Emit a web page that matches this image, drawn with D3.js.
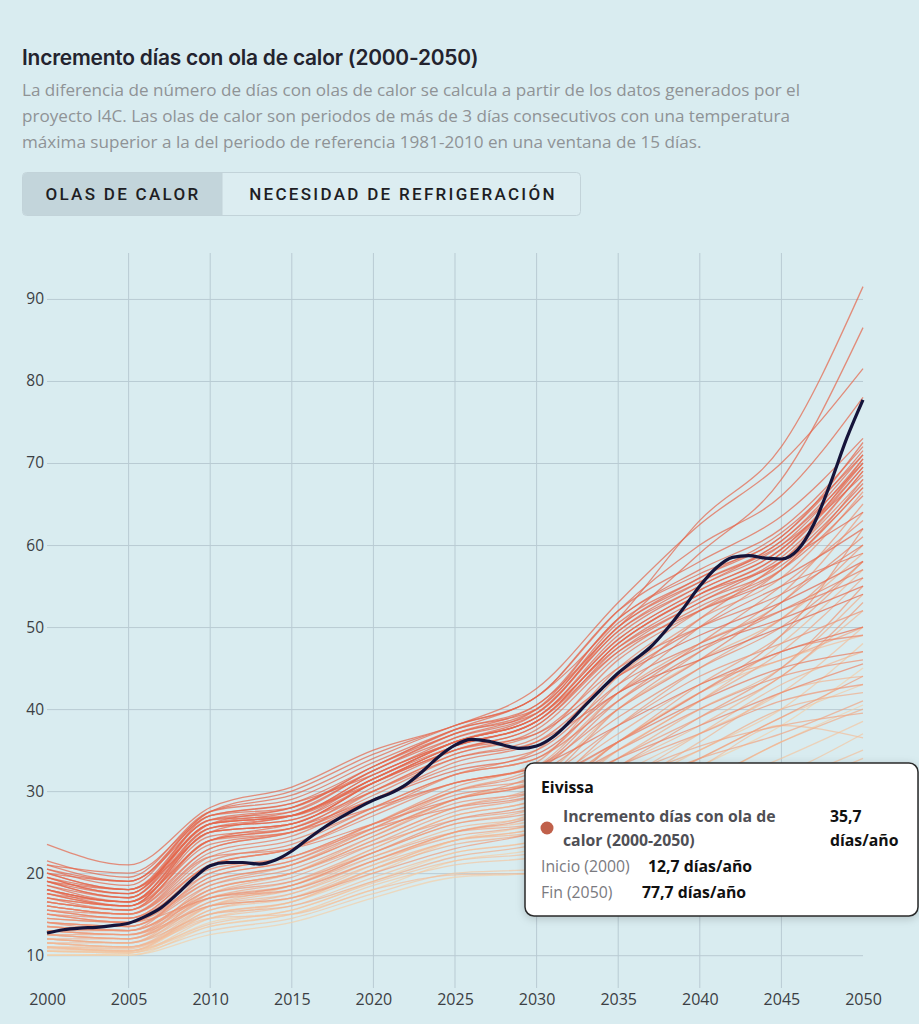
<!DOCTYPE html>
<html>
<head>
<meta charset="utf-8">
<script src="https://cdn.jsdelivr.net/npm/d3@7"></script>
<style>
  body { margin: 0; background: #d9ecf0; }
  svg { display: block; }
</style>
</head>
<body>
<svg id="chart"></svg>
<script>
// years sampled every 5 years for the municipality lines
const years = [2000, 2005, 2010, 2015, 2020, 2025, 2030, 2035, 2040, 2045, 2050];

// upper bundle (higher start, steep rise)
const upperLines = [
  [21.5, 19.5, 27.5, 29, 33.5, 37.5, 40.5, 51, 57, 62, 72],
  [20.5, 18.5, 27, 28, 33, 37, 40, 50, 56, 61, 71.5],
  [20, 18, 26.5, 27.5, 32.5, 36.5, 39.5, 49.5, 55.5, 60.5, 71],
  [19.5, 17.5, 26, 27, 32, 36, 39, 49, 55, 60, 70.5],
  [19, 17, 26.5, 27, 31.5, 36, 39, 48.5, 54.5, 59.5, 70],
  [18.5, 16.5, 25.5, 26.5, 31.5, 35.5, 38.5, 48, 54, 59, 69.5],
  [18, 16, 25, 26, 31, 35, 38, 47.5, 53.5, 58.5, 69],
  [19, 17.5, 27, 28.5, 32, 36.5, 40, 51, 56.5, 61, 72.5],
  [20, 18, 26, 27.5, 32.5, 37, 39.5, 50, 55.5, 60, 68.5],
  [18.5, 17, 25.5, 26.5, 31, 35.5, 38.5, 48, 54, 58, 67.5],
  [17.5, 16, 24.5, 25.5, 30.5, 35, 38, 47, 53, 57.5, 67],
  [17, 15.5, 24, 25.5, 30, 34.5, 37.5, 46.5, 52.5, 57, 66],
  [21, 19, 27.5, 29.5, 34, 38, 41.5, 52, 58, 63.5, 73],
  [19.5, 17.5, 26, 27, 32, 36, 39, 47.5, 53, 58, 64],
  [18, 16.5, 25, 26, 31, 35.5, 38.5, 47, 52, 56, 62],
  [16.5, 15.5, 24, 25, 30, 34.5, 37, 45, 50, 54, 60],
  [20.5, 19, 27, 28.5, 33, 37.5, 40, 50.5, 56, 61.5, 71],
  [19, 17, 26, 27, 31.5, 36, 39.5, 49.5, 55, 60.5, 70],
  [18, 16.5, 25.5, 27, 31.5, 36, 39, 48.5, 54.5, 59.5, 69.5],
  [17.5, 16, 25, 26, 31, 35.5, 38.5, 48, 54, 59, 70.5]
];

// lines that break away at the end
const outlierLines = [
  [20, 19, 26.5, 28, 33, 37.5, 41.5, 51, 63, 72, 91.5],
  [19, 18, 26, 28, 32.5, 37, 40.5, 50, 59, 68, 86.5],
  [23.5, 21, 28, 30.5, 35, 38, 42.5, 53, 62.5, 70, 81.5],
  [21, 20, 27.5, 30, 34.5, 38, 41.5, 52, 60, 66, 78]
];

// middle bundle
const middleLines = [
  [16, 15, 22, 23, 26, 29, 31, 36, 41, 45, 47],
  [17, 16, 23.5, 25, 28, 31, 33, 38, 43, 47, 50],
  [18, 16.5, 24, 25.5, 29, 32.5, 34.5, 42, 46, 50, 54],
  [15, 14, 20.5, 22, 25.5, 28, 29.5, 34, 38, 42, 45.5],
  [13, 12.5, 18.5, 21, 25.5, 30, 33, 42, 48, 53, 64],
  [12, 11.5, 17.5, 20, 24.5, 29, 31.5, 40, 46, 51, 59],
  [11, 10.5, 16, 18.5, 23, 27, 29, 36, 42, 46, 49],
  [10.5, 10.3, 14.5, 16.5, 20.5, 24, 25.5, 30, 34, 39, 43],
  [14, 13.5, 19.5, 21.5, 26, 30.5, 33.5, 44, 51, 56, 66.5],
  [15.5, 14.5, 21, 23, 27.5, 32, 35, 45, 52, 58, 69],
  [16.5, 15.5, 23, 25, 29.5, 34, 36.5, 46, 52, 57, 68],
  [12.5, 12, 16.5, 18, 21.5, 24.5, 26, 31.5, 35.5, 38, 39.5],
  [13.5, 13, 17.5, 19, 22.5, 26, 27.5, 33, 37, 41, 43],
  [11.5, 11, 15.5, 17.5, 21.5, 25, 27.5, 35, 41, 48, 57],
  [19.5, 18, 25, 27, 31, 35, 37, 44, 49, 53, 58],
  [17.5, 16.5, 24, 26, 30, 34, 36, 42, 47.5, 51, 55],
  [10, 10, 12.5, 14, 17, 19.5, 20, 22.5, 25, 29, 33],
  [10.8, 10.6, 13.8, 15.5, 18.8, 21.5, 22.5, 25.5, 28, 31, 35]
];

// lower bundle (lower start, wider spread)
const lowerLines = [
  [14, 13.5, 19, 21, 25, 29, 31, 40, 47, 54, 65],
  [13.5, 13, 18, 20, 24, 28, 30, 38, 45, 51, 60],
  [13, 12.5, 17.5, 19.5, 23.5, 27.5, 29.5, 36, 43, 49, 58],
  [12.5, 12, 17, 19, 23, 27, 29, 35, 41, 47, 56],
  [12, 11.5, 16.5, 18.5, 22.5, 26, 28, 34, 40, 45, 54],
  [11.5, 11, 16, 18, 22, 25.5, 27, 33, 38, 44, 52],
  [11, 10.5, 15.5, 17, 21, 25, 26.5, 32, 37, 42, 50],
  [10.5, 10.5, 15, 16.5, 20, 24, 26, 30, 35, 40, 48],
  [10, 10.2, 14, 15.5, 19, 22.5, 24, 28, 33, 38, 45],
  [10.5, 10.3, 13, 14.5, 17.5, 20, 20.5, 25, 29, 32, 37],
  [11, 10.8, 14.5, 15, 18, 19.8, 20, 23, 27, 30, 34],
  [12, 11.5, 15, 16, 19, 22, 23.5, 27, 31, 36, 40],
  [13, 12.5, 16, 17, 20, 23, 25, 29, 34, 39, 44],
  [14.5, 14, 19, 21, 25, 29, 32, 39, 45, 50, 58],
  [15, 14.5, 20, 22, 26, 30, 32.5, 41, 48, 55, 63],
  [15.5, 15, 21, 23, 27, 31, 33, 42, 50, 57, 67],
  [16, 15, 22, 24, 28, 32, 34, 43, 51, 58, 68],
  [14, 13, 20, 22, 26, 30, 31.5, 38, 44, 48, 52],
  [12.5, 12, 18, 20, 24, 28, 30.5, 37, 43, 46, 50],
  [11.5, 11.5, 16, 17.5, 21, 24, 25.5, 31, 37, 43, 47],
  [13.5, 13, 17, 18, 21.5, 25, 27, 33, 39, 45, 55],
  [12, 12, 16, 17, 20.5, 23.5, 25, 31, 35, 40, 42],
  [11, 11, 14.5, 16, 19.5, 22.5, 24, 29, 33, 38, 36.5],
  [15, 14, 19.5, 21.5, 25.5, 29.5, 31, 36, 42, 47, 49],
  [16.5, 15.5, 22.5, 24.5, 29, 33, 35, 43, 48, 52, 56],
  [14, 13.5, 18.5, 20.5, 24.5, 28.5, 30, 35, 40, 44, 46],
  [12.5, 12.5, 17, 18.5, 22, 25, 26, 30, 34, 37, 41],
  [10.5, 10.5, 13.5, 15, 18.5, 21, 22, 26, 30, 34, 38.5],
  [13, 13, 18, 20, 23.5, 26.5, 28, 34, 39, 44, 53],
  [15.5, 14.5, 21, 23, 27.5, 31, 33, 40, 46, 53, 61],
  [17, 16, 23, 25, 29, 33.5, 36, 44, 50, 55, 59],
  [16, 15, 21.5, 23.5, 28, 32, 34, 41, 47, 52, 57],
  [11.5, 11, 15, 16.5, 20.5, 24, 25, 30, 36, 42, 44],
  [10, 10, 13.5, 15, 18, 21.5, 23, 27, 31, 36, 40.5],
  [14.5, 14, 17, 18.5, 22.5, 26.5, 28.5, 36, 42, 49, 62]
];

// highlighted municipality, yearly values
const highlightName = 'Eivissa';
const highlightYears = d3.range(2000, 2051);
const highlightValues = [
  12.7, 13.1, 13.3, 13.4, 13.6, 13.9, 14.7, 15.8, 17.5, 19.4,
  20.9, 21.3, 21.3, 21.1, 21.6, 22.7, 24.2, 25.6, 26.8, 27.9,
  28.9, 29.7, 30.8, 32.4, 34.2, 35.6, 36.3, 36.1, 35.6, 35.2,
  35.5, 36.6, 38.4, 40.5, 42.5, 44.4, 46.0, 47.6, 49.8, 52.3,
  55.0, 57.2, 58.5, 58.7, 58.4, 58.3, 59.4, 62.6, 67.5, 73.0,
  77.7
];
const highlightMean = 35.7;

const xTicks = [2000, 2005, 2010, 2015, 2020, 2025, 2030, 2035, 2040, 2045, 2050];
const yTicks = [10, 20, 30, 40, 50, 60, 70, 80, 90];

const subtitleLines = [
  'La diferencia de número de días con olas de calor se calcula a partir de los datos generados por el',
  'proyecto I4C. Las olas de calor son periodos de más de 3 días consecutivos con una temperatura',
  'máxima superior a la del periodo de referencia 1981-2010 en una ventana de 15 días.'
];
const buttons = ['OLAS DE CALOR', 'NECESIDAD DE REFRIGERACIÓN'];

const width = 919, height = 1024;
const svg = d3.select('#chart').attr('width', width).attr('height', height);

svg.append('rect').attr('width', width).attr('height', height).attr('fill', '#d9ecf0');

// header
svg.append('text')
  .attr('x', 22).attr('y', 65)
  .attr('font-family', 'Inter, sans-serif')
  .attr('font-weight', 600)
  .attr('font-size', 20.9)
  .attr('letter-spacing', -0.2)
  .attr('fill', '#23232e')
  .text('Incremento días con ola de calor (2000-2050)');

svg.append('g')
  .selectAll('text')
  .data(subtitleLines)
  .join('text')
  .attr('x', 22)
  .attr('y', (d, i) => 96 + i * 26)
  .attr('font-family', '"Open Sans", sans-serif')
  .attr('font-size', 17.1)
  .attr('fill', '#8f9396')
  .text(d => d);

// toggle buttons
let btn = svg.append('g');
btn.append('rect').attr('x', 22.5).attr('y', 172.5).attr('width', 558).attr('height', 43)
  .attr('rx', 4).attr('fill', '#dcedf1').attr('stroke', '#c2d3d9');
btn.append('path').attr('d', 'M26.5,173 H222 V215 H26.5 Q23,215 23,211.5 V176.5 Q23,173 26.5,173 Z')
  .attr('fill', '#c3d5db');
btn.append('line').attr('x1', 222).attr('x2', 222).attr('y1', 173).attr('y2', 215).attr('stroke', '#c2d3d9');
btn.selectAll('text')
  .data(buttons)
  .join('text')
  .attr('x', (d, i) => (i === 0 ? 123 : 403))
  .attr('y', 200)
  .attr('text-anchor', 'middle')
  .attr('font-family', 'Roboto, sans-serif')
  .attr('font-weight', 500)
  .attr('font-size', 17)
  .attr('letter-spacing', 2.3)
  .attr('fill', '#1e1e24')
  .text(d => d);

// scales
const xScale = d3.scaleLinear().domain([2000, 2050]).range([47, 863]);
const yScale = d3.scaleLinear().domain([6, 95.6]).range([988, 253]);

// grid
svg.append('g')
  .selectAll('line')
  .data(xTicks.slice(1, -1))
  .join('line')
  .attr('x1', d => xScale(d)).attr('x2', d => xScale(d))
  .attr('y1', yScale.range()[1]).attr('y2', yScale.range()[0])
  .attr('stroke', '#b9cbd3')
  .attr('stroke-width', 1);

let yAxis = svg.append('g')
  .attr('transform', 'translate(' + xScale(2000) + ',0)')
  .call(d3.axisLeft(yScale).tickValues(yTicks).tickSize(-(xScale(2050) - xScale(2000))).tickPadding(3));
yAxis.select('.domain').remove();
yAxis.selectAll('line').attr('stroke', '#b9cbd3');
yAxis.selectAll('text')
  .attr('font-family', '"Open Sans", sans-serif')
  .attr('font-size', 15.5)
  .attr('fill', '#3c3f44');

let xAxis = svg.append('g')
  .attr('transform', 'translate(0,' + 988 + ')')
  .call(d3.axisBottom(xScale).tickValues(xTicks).tickFormat(d3.format('d')).tickSize(0).tickPadding(6));
xAxis.select('.domain').remove();
xAxis.selectAll('text')
  .attr('font-family', '"Open Sans", sans-serif')
  .attr('font-size', 16)
  .attr('fill', '#3c3f44');

// lines
const allLines = upperLines.concat(outlierLines, middleLines, lowerLines);
const color = d3.scaleLinear()
  .domain([10, 13, 18])
  .range(['#f3d0ab', '#ef9d7d', '#e5674c'])
  .clamp(true);

const line = d3.line()
  .x(d => xScale(d[0]))
  .y(d => yScale(d[1]))
  .curve(d3.curveMonotoneX);

svg.append('g')
  .selectAll('path')
  .data(allLines.slice().sort((a, b) => a[0] - b[0]))
  .join('path')
  .attr('d', d => line(years.map((yr, i) => [yr, d[i]])))
  .attr('fill', 'none')
  .attr('stroke', d => color(d[0]))
  .attr('stroke-opacity', 0.72)
  .attr('stroke-width', 1.3);

const highlight = highlightYears.map((yr, i) => [yr, highlightValues[i]]);
svg.append('path')
  .attr('d', line(highlight))
  .attr('fill', 'none')
  .attr('stroke', '#15143a')
  .attr('stroke-width', 3.2)
  .attr('stroke-linejoin', 'round');

// tooltip
const startVal = highlightValues[0];
const endVal = highlightValues[highlightValues.length - 1];
const fmt = v => d3.format('.1f')(v).replace('.', ',');

let tip = svg.append('g').attr('font-family', '"Open Sans", sans-serif').attr('font-size', 15.8);
tip.append('rect')
  .attr('x', 525).attr('y', 763).attr('width', 393).attr('height', 153).attr('rx', 9)
  .attr('fill', '#ffffff').attr('stroke', '#2a2a2a').attr('stroke-width', 1.5)
  .style('filter', 'drop-shadow(0px 2px 4px rgba(0,0,0,0.18))');
tip.append('text').attr('x', 541).attr('y', 793).attr('font-weight', 700).attr('fill', '#111')
  .text(highlightName);
tip.append('circle').attr('cx', 547).attr('cy', 828).attr('r', 6.5).attr('fill', '#c0604a');
tip.append('text').attr('x', 563).attr('y', 822).attr('font-weight', 700).attr('fill', '#4f4f55')
  .text('Incremento días con ola de');
tip.append('text').attr('x', 563).attr('y', 846).attr('font-weight', 700).attr('fill', '#4f4f55')
  .text('calor (2000-2050)');
tip.append('text').attr('x', 830).attr('y', 822).attr('font-weight', 700).attr('fill', '#111')
  .text(fmt(highlightMean));
tip.append('text').attr('x', 830).attr('y', 846).attr('font-weight', 700).attr('fill', '#111')
  .text('días/año');
tip.append('text').attr('x', 541).attr('y', 872).attr('fill', '#7a7a80').text('Inicio (2000)');
tip.append('text').attr('x', 648).attr('y', 872).attr('font-weight', 700).attr('fill', '#111')
  .text(fmt(startVal) + ' días/año');
tip.append('text').attr('x', 541).attr('y', 898).attr('fill', '#7a7a80').text('Fin (2050)');
tip.append('text').attr('x', 642).attr('y', 898).attr('font-weight', 700).attr('fill', '#111')
  .text(fmt(endVal) + ' días/año');
</script>
</body>
</html>
